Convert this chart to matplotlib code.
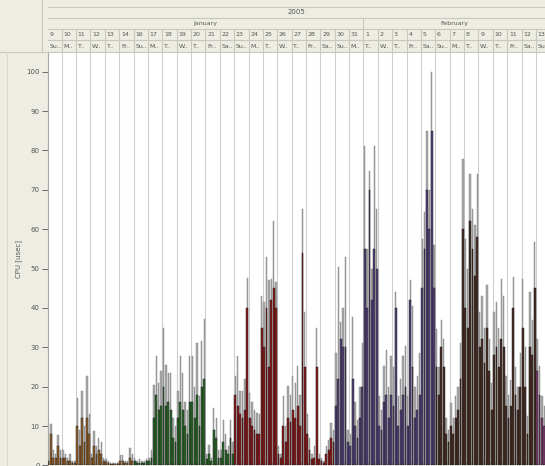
import numpy as np
import matplotlib
matplotlib.use("Agg")
import matplotlib.pyplot as plt
from datetime import date

# shown days (the 15th of January is missing on the timeline)
month_numbers = [1] * 22 + [2] * 13
day_numbers = [9, 10, 11, 12, 13, 14, 16, 17, 18, 19, 20, 21, 22, 23, 24,
               25, 26, 27, 28, 29, 30, 31,
               1, 2, 3, 4, 5, 6, 7, 8, 9, 10, 11, 12, 13]
month_names = {1: "January", 2: "February"}
weekday_labels = ["M..", "T..", "W..", "T..", "Fr..", "Sa..", "Su.."]
year_label = "2005"

# six 4-hour samples per day: peak and typical CPU time
peak = [
    [2, 10.5, 4, 3, 7.7, 4],          # Jan 9
    [4, 3, 2, 3, 1, 1],               # Jan 10
    [17, 9, 19, 10, 22.7, 13],        # Jan 11
    [3, 8.7, 5, 7, 6, 2],             # Jan 12
    [1.5, 1, 0.5, 0.5, 0.5, 0.5],     # Jan 13
    [2.6, 2.6, 1, 1, 4.3, 3],         # Jan 14
    [2, 1, 1.5, 1, 1, 1.5],           # Jan 16
    [2, 4, 20.5, 27.8, 21, 24],       # Jan 17
    [35, 25.6, 23.5, 23.5, 12, 10],   # Jan 18
    [19, 27.8, 23.5, 16, 14, 27.8],   # Jan 19
    [27.8, 20, 31.2, 17.6, 31.7, 37.2],  # Jan 20
    [3, 5.2, 2, 14.6, 12, 4],         # Jan 21
    [4, 11.6, 8, 5, 11.6, 6],         # Jan 22
    [22.7, 27.8, 19, 19, 22, 47.6],   # Jan 23
    [18.4, 16, 14, 13.3, 13, 43],     # Jan 24
    [41.4, 53, 47, 47.4, 62, 46.5],   # Jan 25
    [5, 3, 17.6, 10, 20.2, 18],       # Jan 26
    [22.7, 21, 25.3, 18, 65, 39],     # Jan 27
    [13, 7, 3, 5, 35, 3],             # Jan 28
    [2, 1, 5, 6.4, 10.7, 9],          # Jan 29
    [28.6, 50.4, 36.3, 40, 53, 9],    # Jan 30
    [8, 37.6, 16, 11.6, 20, 31.2],    # Jan 31
    [81, 55, 74.7, 50, 81, 65],       # Feb 1
    [17.6, 14, 25.3, 29.4, 20, 27.8], # Feb 2
    [25, 44, 17.6, 22, 27.8, 30.4],   # Feb 3
    [17.6, 47, 40.6, 20, 22.7, 28.6], # Feb 4
    [57.6, 64.4, 85, 70, 100, 56],    # Feb 5
    [34.6, 25, 37, 32, 12, 9],        # Feb 6
    [15.9, 12, 17.6, 20, 31.2, 77.7], # Feb 7
    [57.6, 50, 74, 65, 61, 74],       # Feb 8
    [39, 43, 35, 45.8, 32, 21],       # Feb 9
    [39, 41.4, 35, 47.4, 43, 22.7],   # Feb 10
    [18, 21.8, 47.8, 25, 20, 28.6],   # Feb 11
    [47.4, 30, 12.5, 44, 37, 56.8],   # Feb 12
    [32, 25.3, 17.6, 15, 10, 10],     # Feb 13
]
load = [
    [1, 8, 2, 2, 5, 2],
    [2, 2, 1, 1, 0.5, 0.5],
    [10, 5, 12, 6, 12, 8],
    [2, 5, 3, 4, 3, 1],
    [0.8, 0.5, 0.3, 0.3, 0.3, 0.3],
    [1, 1, 0.5, 0.5, 2, 1],
    [1, 0.5, 0.5, 0.5, 0.5, 1],
    [1, 2, 12, 18, 14, 15],
    [20, 15, 16, 14, 7, 6],
    [12, 16, 14, 10, 8, 16],
    [16, 12, 18, 10, 20, 22],
    [1.5, 3, 1, 9, 7, 2],
    [2, 6, 4, 3, 7, 3],
    [18, 15, 13, 12, 14, 40],
    [12, 10, 9, 8, 8, 35],
    [30, 40, 25, 42, 45, 40],
    [3, 2, 10, 6, 12, 11],
    [14, 12, 15, 10, 54, 25],
    [8, 4, 1.5, 2, 25, 1.5],
    [1, 0.5, 3, 4, 7, 6],
    [15, 22, 32, 30, 30, 6],
    [5, 22, 10, 7, 12, 20],
    [55, 40, 70, 42, 55, 50],
    [10, 9, 16, 18, 12, 18],
    [15, 40, 10, 14, 18, 20],
    [10, 42, 25, 12, 14, 18],
    [45, 55, 70, 60, 85, 45],
    [25, 18, 30, 25, 8, 6],
    [10, 8, 12, 14, 22, 60],
    [40, 35, 62, 55, 48, 58],
    [30, 32, 26, 35, 24, 14],
    [28, 30, 25, 32, 30, 15],
    [12, 15, 40, 18, 14, 20],
    [35, 20, 8, 30, 28, 45],
    [24, 18, 12, 10, 6, 6],
]
# one colour per week (weeks start on Sunday)
week_colors = ["#94622f", "#2d6a2e", "#8a1e1e", "#54457a", "#4a3027", "#7d3f70"]

y_ticks = [0, 10, 20, 30, 40, 50, 60, 70, 80, 90, 100]
y_label = "CPU [usec]"

BEIGE = "#eeede3"
LINE = "#c9c8bc"
TEXT = "#555555"

W, H = 545, 466
fig = plt.figure(figsize=(W / 100, H / 100), dpi=100, facecolor=BEIGE)

left_px, head_px = 48, 52
ax = fig.add_axes([left_px / W, 0.6 / H, 1 - left_px / W, (H - head_px - 0.6) / H])
hx = fig.add_axes([left_px / W, 1 - head_px / H, 1 - left_px / W, head_px / H], sharex=ax)

dates = [date(2005, m, d) for m, d in zip(month_numbers, day_numbers)]
n_days = len(dates)
day_start = np.arange(n_days) - 1.0       # Jan 9 is the partly hidden first day
bins = len(peak[0])
xlim = (-0.953, 33.63)

# bars
xs, pk, ld, cols = [], [], [], []
for i, dt in enumerate(dates):
    week = (dt - dates[0]).days // 7
    for k in range(bins):
        xs.append(day_start[i] + (k + 0.5) / bins)
        pk.append(peak[i][k])
        ld.append(load[i][k])
        cols.append(week_colors[week])
w = 1 / bins
ax.set_facecolor("white")
for d in range(-1, n_days):
    ax.axvline(d, color="#cdcdcd", lw=0.8, zorder=0)
ax.bar(xs, pk, width=w * 0.55, color="#a9a9a9", edgecolor="#808080", lw=0.3, zorder=2)
ax.bar(xs, ld, width=w * 0.75, color=cols, edgecolor="#111111", lw=0.3, zorder=3)

ax.set_yticks(y_ticks)
ax.tick_params(axis="y", labelsize=5, colors=TEXT, length=4.5, width=0.6, pad=1.5)
ax.set_xticks([])
ax.set_xticks(np.arange(-1, n_days, 1 / bins), minor=True)
ax.tick_params(axis="x", which="minor", direction="in", length=2, width=0.5,
               color="#b0b0b0", labelbottom=False)
ax.set_xlim(*xlim)
ax.set_ylim(0, 105)
for s in ["top", "right", "bottom"]:
    ax.spines[s].set_visible(False)
ax.spines["left"].set_color("#a8a8a0")
ax.spines["left"].set_linewidth(0.8)
ax.set_ylabel(y_label, fontsize=5, color=TEXT)
ax.yaxis.set_label_coords(-26 / (W - left_px), 0.5)

# header
hx.set_facecolor("#f5f4ee")
hx.set_ylim(head_px, 0)
hx.axis("off")
hx.patch.set_visible(True)
rows = [6.5, 18.3, 28.5, 40, head_px]
for y in rows:
    hx.axhline(y, color=LINE, lw=0.8)
vis_mid = (xlim[0] + xlim[1]) / 2
hx.text(vis_mid, (rows[0] + rows[1]) / 2, year_label, ha="center", va="center",
        fontsize=5, color=TEXT)
for m in sorted(set(month_numbers)):
    idx = [i for i, mm in enumerate(month_numbers) if mm == m]
    a = max(day_start[idx[0]], xlim[0])
    b = min(day_start[idx[-1]] + 1, xlim[1])
    hx.text((a + b) / 2, (rows[1] + rows[2]) / 2, month_names[m], ha="center",
            va="center", fontsize=4.5, color=TEXT)
    if idx[0] > 0:
        hx.plot([day_start[idx[0]]] * 2, [rows[1], head_px], color=LINE, lw=0.8)
for i, dt in enumerate(dates):
    x0 = day_start[i]
    hx.plot([x0, x0], [rows[2], head_px], color=LINE, lw=0.8)
    tx = max(x0, xlim[0]) + 0.12
    hx.text(tx, (rows[2] + rows[3]) / 2 + 0.5, str(dt.day), ha="left", va="center",
            fontsize=4.5, color=TEXT, clip_on=True)
    hx.text(tx, (rows[3] + rows[4]) / 2 + 0.5, weekday_labels[dt.weekday()],
            ha="left", va="center", fontsize=4.5, color=TEXT, clip_on=True)
hx.set_xlim(*xlim)

# left frame lines
fig.add_artist(plt.Line2D([41.7 / W] * 2, [1 - head_px / H, 1], color=LINE, lw=0.8))
fig.add_artist(plt.Line2D([0, 1], [1 - head_px / H] * 2, color=LINE, lw=0.8))
fig.add_artist(plt.Line2D([7 / W] * 2, [0, 1 - head_px / H], color="#dcdbd0", lw=0.8))

fig.savefig("out.png", dpi=100, facecolor=BEIGE)
